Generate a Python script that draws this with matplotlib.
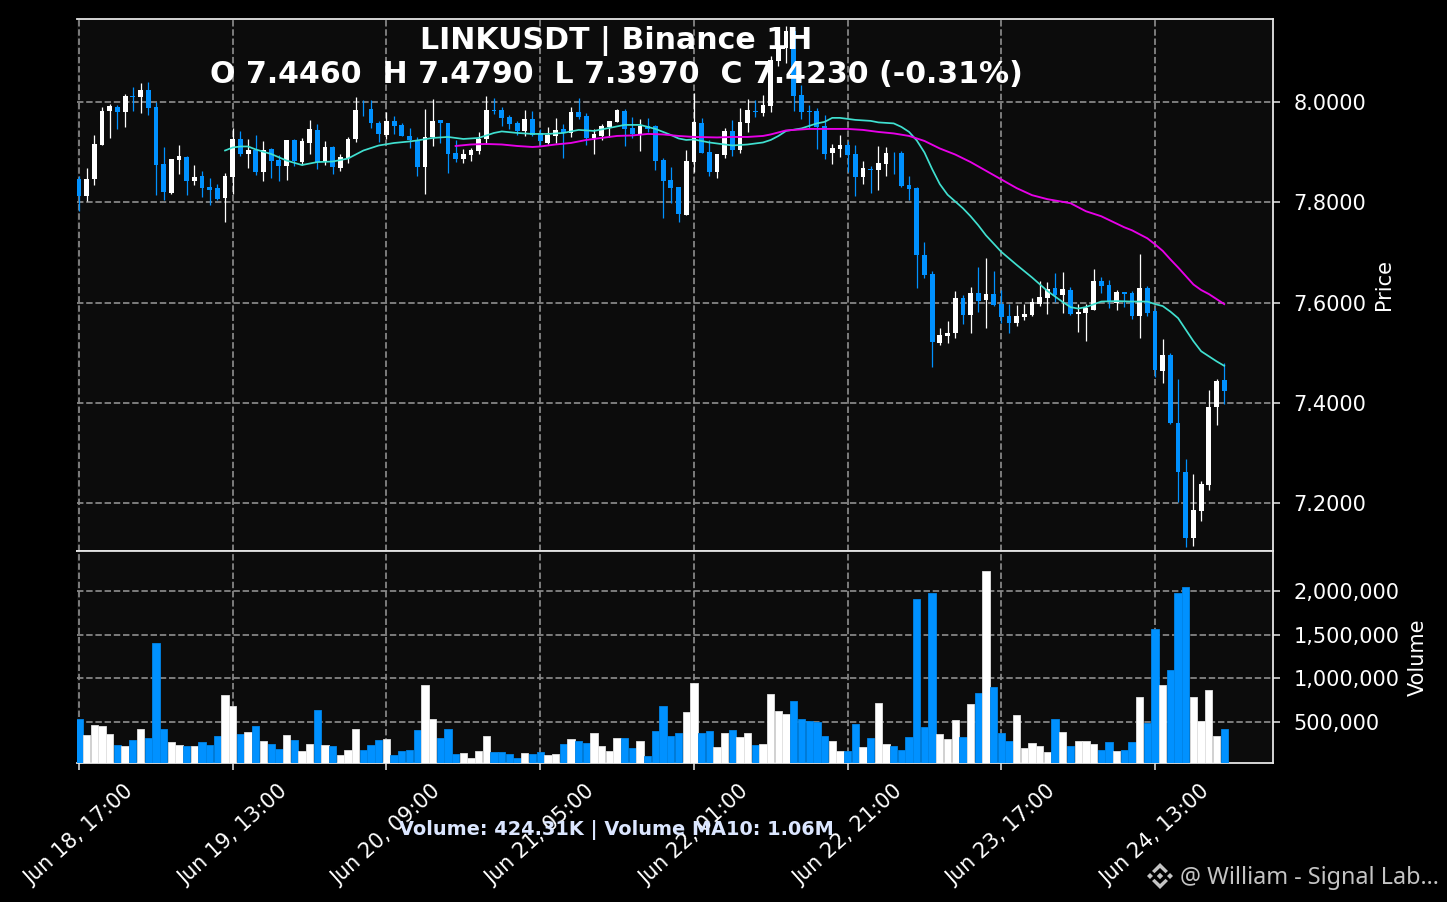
import matplotlib
matplotlib.use("Agg")
import matplotlib.pyplot as plt
from matplotlib.patches import Polygon

opens = [7.847,7.813,7.846,7.913,7.982,7.990,7.980,8.011,8.010,8.024,
7.990,7.876,7.819,7.885,7.891,7.842,7.853,7.831,7.828,7.809,
7.851,7.926,7.897,7.904,7.860,7.905,7.885,7.873,7.923,7.881,
7.918,7.944,7.881,7.909,7.869,7.888,7.925,7.984,7.986,7.958,
7.934,7.962,7.954,7.932,7.921,7.870,7.930,7.964,7.958,7.899,
7.887,7.895,7.901,7.925,7.984,7.984,7.970,7.958,7.942,7.966,
7.938,7.918,7.932,7.946,7.937,7.980,7.972,7.928,7.932,7.950,
7.960,7.982,7.948,7.936,7.952,7.951,7.885,7.845,7.831,7.775,
7.881,7.958,7.900,7.861,7.894,7.942,7.904,7.958,7.981,7.977,
7.991,8.081,8.107,8.142,8.013,7.981,7.981,7.952,7.898,7.906,
7.914,7.896,7.850,7.866,7.864,7.876,7.897,7.898,7.835,7.828,
7.695,7.656,7.520,7.534,7.540,7.609,7.576,7.619,7.605,7.617,
7.597,7.574,7.560,7.572,7.575,7.597,7.609,7.629,7.615,7.625,
7.578,7.579,7.585,7.643,7.635,7.599,7.621,7.619,7.574,7.629,
7.583,7.464,7.496,7.361,7.262,7.130,7.184,7.236,7.391,7.446]
closes = [7.813,7.847,7.915,7.982,7.992,7.980,8.012,8.0105,8.024,7.987,
7.875,7.820,7.886,7.893,7.842,7.851,7.828,7.825,7.807,7.853,
7.926,7.897,7.903,7.860,7.903,7.883,7.873,7.923,7.883,7.921,
7.946,7.881,7.909,7.870,7.891,7.926,7.984,7.983,7.957,7.935,
7.962,7.951,7.931,7.924,7.870,7.930,7.962,7.957,7.897,7.887,
7.897,7.903,7.926,7.984,7.981,7.968,7.956,7.942,7.966,7.934,
7.921,7.934,7.944,7.938,7.980,7.970,7.928,7.936,7.952,7.962,
7.984,7.946,7.936,7.952,7.946,7.883,7.843,7.829,7.776,7.883,
7.959,7.899,7.861,7.896,7.942,7.903,7.960,7.983,7.980,7.993,
8.083,8.107,8.142,8.011,7.979,7.980,7.950,7.896,7.908,7.914,
7.894,7.851,7.868,7.865,7.878,7.898,7.896,7.832,7.827,7.694,
7.654,7.521,7.536,7.540,7.609,7.576,7.619,7.604,7.617,7.596,
7.572,7.560,7.574,7.577,7.601,7.611,7.627,7.615,7.627,7.577,
7.581,7.589,7.643,7.633,7.601,7.621,7.617,7.574,7.629,7.579,
7.466,7.496,7.361,7.262,7.130,7.186,7.238,7.391,7.444,7.423]
highs = [7.853,7.868,7.934,7.989,7.995,7.994,8.015,8.030,8.038,8.039,
7.999,7.910,7.886,7.913,7.893,7.874,7.863,7.848,7.836,7.858,
7.947,7.942,7.926,7.934,7.922,7.908,7.895,7.924,7.925,7.927,
7.964,7.956,7.921,7.911,7.896,7.929,8.009,8.003,8.003,7.961,
7.979,7.972,7.958,7.948,7.930,7.985,8.005,7.964,7.958,7.924,
7.906,7.908,7.940,8.011,8.007,7.989,7.974,7.962,7.983,7.981,
7.946,7.949,7.968,7.956,7.989,8.007,7.977,7.946,7.956,7.962,
7.985,7.986,7.969,7.966,7.968,7.954,7.888,7.870,7.831,7.904,
8.017,7.967,7.923,7.896,7.947,7.963,7.988,8.006,8.004,8.013,
8.092,8.120,8.152,8.150,8.034,7.993,7.987,7.973,7.915,7.933,
7.922,7.913,7.883,7.872,7.911,7.909,7.900,7.901,7.852,7.830,
7.721,7.663,7.550,7.564,7.623,7.615,7.631,7.670,7.688,7.662,
7.625,7.598,7.595,7.598,7.609,7.642,7.640,7.658,7.660,7.631,
7.598,7.598,7.667,7.651,7.644,7.625,7.622,7.623,7.696,7.634,
7.590,7.527,7.500,7.448,7.289,7.259,7.244,7.425,7.448,7.479]
lows = [7.783,7.803,7.834,7.913,7.928,7.945,7.949,7.981,7.977,7.974,
7.815,7.805,7.817,7.856,7.815,7.834,7.810,7.795,7.805,7.760,
7.817,7.893,7.868,7.854,7.842,7.848,7.842,7.844,7.872,7.874,
7.897,7.866,7.874,7.856,7.862,7.878,7.919,7.972,7.948,7.920,
7.925,7.936,7.931,7.908,7.852,7.817,7.911,7.917,7.858,7.881,
7.878,7.883,7.897,7.916,7.975,7.951,7.946,7.934,7.931,7.932,
7.913,7.915,7.917,7.889,7.929,7.965,7.913,7.896,7.923,7.930,
7.959,7.911,7.927,7.902,7.939,7.865,7.768,7.798,7.760,7.774,
7.861,7.899,7.852,7.848,7.889,7.893,7.899,7.940,7.970,7.972,
7.980,8.072,8.077,7.981,7.966,7.948,7.905,7.887,7.877,7.891,
7.860,7.813,7.837,7.819,7.825,7.852,7.856,7.831,7.804,7.629,
7.648,7.472,7.515,7.519,7.530,7.558,7.539,7.582,7.550,7.594,
7.560,7.539,7.554,7.565,7.574,7.593,7.578,7.601,7.580,7.576,
7.542,7.523,7.585,7.619,7.590,7.586,7.591,7.568,7.530,7.574,
7.452,7.439,7.358,7.203,7.113,7.115,7.165,7.226,7.357,7.397]
volumes = [.534,.352,.466,.455,.364,.239,.227,.295,.420,.318,
1.409,.420,.273,.239,.227,.227,.273,.239,.341,.807,
.682,.364,.386,.455,.284,.250,.193,.352,.295,.170,
.250,.636,.239,.227,.125,.182,.420,.182,.239,.295,
.307,.117,.170,.182,.409,.920,.534,.318,.420,.136,
.148,.091,.170,.341,.159,.159,.136,.091,.148,.136,
.159,.125,.136,.250,.307,.284,.261,.375,.227,.170,
.318,.318,.205,.284,.114,.398,.682,.341,.375,.614,
.943,.375,.398,.216,.375,.409,.330,.375,.239,.250,
.818,.625,.591,.739,.534,.511,.500,.341,.284,.170,
.170,.477,.216,.318,.716,.250,.227,.182,.330,1.909,
.443,1.977,.364,.307,.523,.330,.705,.830,2.227,.898,
.375,.284,.580,.205,.261,.227,.159,.534,.386,.227,
.284,.284,.250,.182,.273,.170,.182,.273,.784,.489,
1.568,.920,1.091,1.977,2.045,.784,.511,.864,.341,.424]

ma_fast_at = [19,20,21,22,23,25,27,29,31,33,35,37,39,41,43,44,46,48,50,52,54,55,57,59,61,63,65,67,69,71,73,75,77,78,79,
80,82,84,85,87,89,90,91,92,94,96,97,98,99,101,103,104,106,107,108,109,110,111,112,113,115,116,117,118,120,122,124,126,128,129,130,131,133,135,137,139,140,141,142,143,144,145,146,147,148,149]
ma_fast = [7.903,7.909,7.911,7.911,7.905,7.896,7.883,7.874,7.880,7.881,7.887,7.903,7.913,7.918,7.921,7.923,7.928,7.930,7.926,7.928,7.938,7.941,7.938,7.936,7.936,7.938,7.944,7.942,7.948,7.954,7.954,7.946,7.934,7.927,7.924,
7.925,7.919,7.915,7.913,7.915,7.919,7.924,7.932,7.942,7.947,7.957,7.960,7.968,7.968,7.964,7.962,7.959,7.957,7.950,7.940,7.923,7.899,7.866,7.836,7.815,7.788,7.772,7.754,7.734,7.701,7.675,7.650,7.623,7.601,7.591,7.588,7.591,7.602,7.603,7.602,7.602,7.597,7.593,7.582,7.569,7.546,7.523,7.503,7.493,7.483,7.474]
ma_slow_at = [49,51,53,55,57,59,60,62,64,66,68,70,72,74,76,78,80,83,85,87,89,90,92,95,98,100,102,104,106,108,110,112,114,116,119,122,124,126,129,131,133,136,137,139,140,141,142,143,144,145,146,147,148,149]
ma_slow = [7.912,7.915,7.916,7.915,7.912,7.910,7.911,7.915,7.918,7.924,7.928,7.932,7.933,7.936,7.935,7.932,7.930,7.929,7.930,7.930,7.932,7.935,7.943,7.946,7.946,7.946,7.944,7.940,7.937,7.932,7.922,7.907,7.895,7.880,7.854,7.828,7.814,7.806,7.798,7.782,7.772,7.750,7.744,7.728,7.716,7.703,7.686,7.670,7.653,7.636,7.625,7.617,7.607,7.597]

tick_at = [0,20,40,60,80,100,120,140]
tick_labels = ["Jun 18, 17:00","Jun 19, 13:00","Jun 20, 09:00","Jun 21, 05:00",
               "Jun 22, 01:00","Jun 22, 21:00","Jun 23, 17:00","Jun 24, 13:00"]
price_ticks = [7.2,7.4,7.6,7.8,8.0]
volume_ticks = [500000,1000000,1500000,2000000]

W, H = 1447, 902
BLUE = "#0091ff"
WHITE = "#ffffff"
fig = plt.figure(figsize=(W/100, H/100), dpi=100, facecolor="black")
def box(l, t, r, b):
    return [l/W, 1-b/H, (r-l)/W, (b-t)/H]
ax = fig.add_axes(box(76.5, 18.5, 1273, 551))
axv = fig.add_axes(box(76.5, 551, 1273, 763), sharex=ax)

n = len(opens)
for a in (ax, axv):
    a.set_facecolor("#0c0c0c")
    a.grid(True, color="#8a8a8a", linestyle="--", linewidth=1.25, zorder=0)
    a.set_axisbelow(True)
    a.yaxis.tick_right()
    a.yaxis.set_label_position("right")
    for s in a.spines.values():
        s.set_color("#e6e6e6"); s.set_linewidth(1.3)
    a.spines["left"].set_visible(False)
    a.tick_params(colors="white", labelsize=15, length=5, width=1.1, color="#e6e6e6", pad=9.8)

xs = list(range(n))
cols = [BLUE if c < o else WHITE for o, c in zip(opens, closes)]
edges = ["#0084e8" if c < o else "#e2e2e2" for o, c in zip(opens, closes)]
ax.vlines(xs, lows, highs, colors=cols, linewidth=0.9, zorder=3)
ax.bar(xs, [max(abs(c-o), 0.0006) for o, c in zip(opens, closes)],
       bottom=[min(o, c) for o, c in zip(opens, closes)], width=0.62, color=cols, linewidth=0, zorder=4)
ax.plot(ma_fast_at, ma_fast, color="#40e0d0", linewidth=1.25, zorder=5)
ax.plot(ma_slow_at, ma_slow, color="#e800e8", linewidth=1.35, zorder=5)
ax.set_ylim(7.105, 8.166)
ax.set_yticks(price_ticks)
ax.set_yticklabels([f"{v:.4f}" for v in price_ticks])
ax.set_ylabel("Price", color="white", fontsize=15, labelpad=5.0)
ax.tick_params(axis="x", bottom=False, labelbottom=False)

axv.bar(xs, [v*1e6 for v in volumes], width=0.95, color=cols, edgecolor=edges, linewidth=0.6, zorder=3)
axv.set_ylim(30000, 2458000)
axv.set_yticks(volume_ticks)
axv.set_yticklabels([f"{v:,}" for v in volume_ticks])
axv.set_ylabel("Volume", color="white", fontsize=15, labelpad=6.0)
axv.set_xlim(-0.33, 155.35)
axv.set_xticks(tick_at)
axv.set_xticklabels(tick_labels, rotation=42, ha="center", rotation_mode="default")
axv.tick_params(axis="x", pad=8)

fig.text(616/W, 1-41/H, "LINKUSDT | Binance 1H", color="white", fontsize=21.65, fontweight="bold", ha="center", va="center", zorder=10)
fig.text(616/W, 1-74.5/H, "O 7.4460  H 7.4790  L 7.3970  C 7.4230 (-0.31%)", color="white", fontsize=21.65, fontweight="bold", ha="center", va="center", zorder=10)
fig.text(616/W, 1-830/H, "Volume: 424.31K | Volume MA10: 1.06M", color="#dbe6ff", fontsize=13.9, fontweight="bold", ha="center", va="center", zorder=10)
fig.text(1180/W, 1-878/H, "@ William - Signal Lab...", color="#c4c4c4", fontsize=16.8, family="Noto Sans", ha="left", va="center", zorder=10)

# Binance-style logo, in pixel units of its own small axes
logo = fig.add_axes(box(1146, 862, 1174, 890)); logo.axis("off")
logo.set_xlim(-14, 14); logo.set_ylim(-14, 14)
def diamond(cx, cy, r):
    logo.add_patch(Polygon([(cx-r,cy),(cx,cy+r),(cx+r,cy),(cx,cy-r)], color="#c4c4c4", lw=0))
diamond(0,0,3.2); diamond(-10,0,3); diamond(10,0,3)
for sgn in (1,-1):
    logo.add_patch(Polygon([(0,13*sgn),(8,5*sgn),(5.5,2.8*sgn),(0,8*sgn),(-5.5,2.8*sgn),(-8,5*sgn)], color="#c4c4c4", lw=0))

fig.savefig("out.png", dpi=100, facecolor="black")
